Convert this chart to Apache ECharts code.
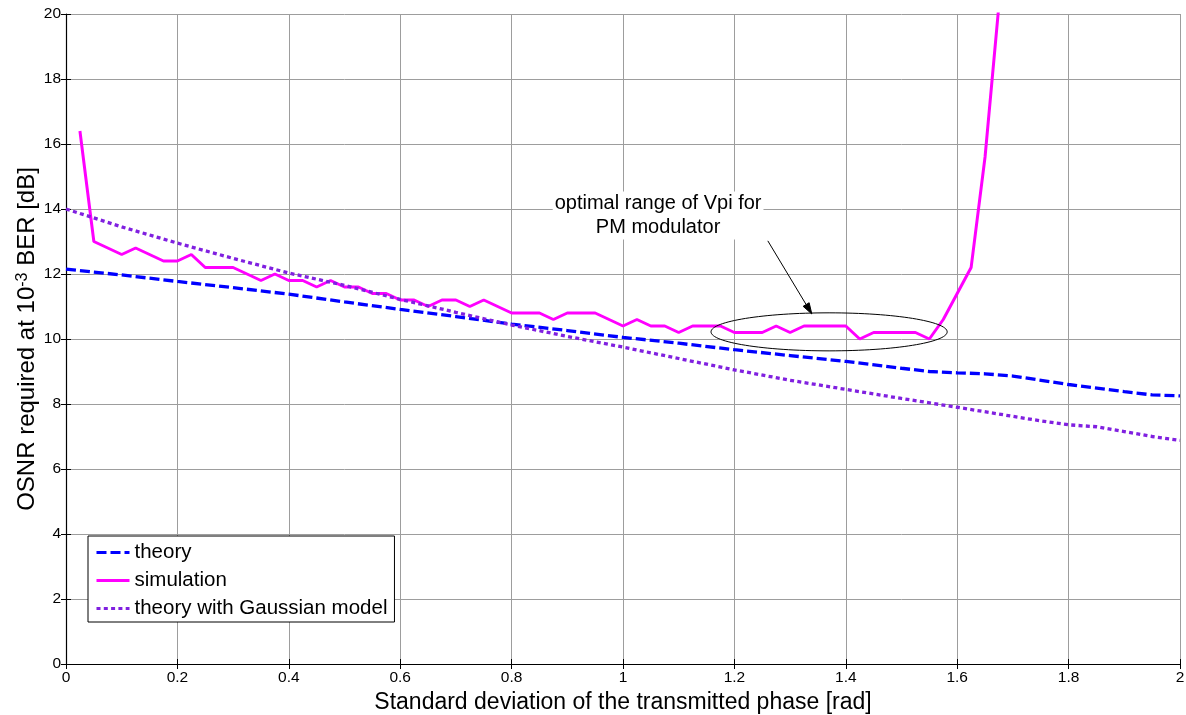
<!DOCTYPE html>
<html>
<head>
<meta charset="utf-8">
<script src="https://cdn.jsdelivr.net/npm/echarts@6/dist/echarts.min.js"></script>
<style>
  html, body { margin: 0; padding: 0; background: #fff; }
  #chart { width: 1186px; height: 715px; }
</style>
</head>
<body>
<div id="chart"></div>
<script>
// Required OSNR versus phase standard deviation

// x tick labels of the phase axis [rad]
const xTicks = ['0', '0.2', '0.4', '0.6', '0.8', '1', '1.2', '1.4', '1.6', '1.8', '2'];

// analytical model
const theoryX = [0, 0.1, 0.2, 0.3, 0.4, 0.5, 0.6, 0.7, 0.8, 0.9, 1.0, 1.1, 1.2, 1.3, 1.4, 1.5, 1.55, 1.6, 1.65, 1.7, 1.8, 1.9, 1.95, 2.0];
const theoryY = [12.15, 11.97, 11.77, 11.58, 11.38, 11.14, 10.91, 10.69, 10.46, 10.26, 10.05, 9.87, 9.67, 9.49, 9.31, 9.1, 9.0, 8.96, 8.93, 8.86, 8.6, 8.38, 8.28, 8.25];

// simulated OSNR penalty
const simX = [0.025, 0.05, 0.075, 0.1, 0.125, 0.15, 0.175, 0.2, 0.225, 0.25, 0.275, 0.3, 0.325, 0.35, 0.375, 0.4,
  0.425, 0.45, 0.475, 0.5, 0.525, 0.55, 0.575, 0.6, 0.625, 0.65, 0.675, 0.7, 0.725, 0.75, 0.775, 0.8,
  0.825, 0.85, 0.875, 0.9, 0.925, 0.95, 0.975, 1.0, 1.025, 1.05, 1.075, 1.1, 1.125, 1.15, 1.175, 1.2,
  1.225, 1.25, 1.275, 1.3, 1.325, 1.35, 1.375, 1.4, 1.425, 1.45, 1.475, 1.5, 1.525, 1.55, 1.575, 1.6,
  1.625, 1.65, 1.675];
const simY = [16.4, 13.0, 12.8, 12.6, 12.8, 12.6, 12.4, 12.4, 12.6, 12.2, 12.2, 12.2, 12.0, 11.8, 12.0, 11.8,
  11.8, 11.6, 11.8, 11.6, 11.6, 11.4, 11.4, 11.2, 11.2, 11.0, 11.2, 11.2, 11.0, 11.2, 11.0, 10.8,
  10.8, 10.8, 10.6, 10.8, 10.8, 10.8, 10.6, 10.4, 10.6, 10.4, 10.4, 10.2, 10.4, 10.4, 10.4, 10.2,
  10.2, 10.2, 10.4, 10.2, 10.4, 10.4, 10.4, 10.4, 10.0, 10.2, 10.2, 10.2, 10.2, 10.0, 10.6, 11.4,
  12.2, 15.6, 20.3];

// Gaussian-noise model
const gaussX = [0, 0.1, 0.2, 0.3, 0.4, 0.5, 0.6, 0.7, 0.8, 0.9, 1.0, 1.1, 1.2, 1.3, 1.4, 1.5, 1.6, 1.7, 1.75, 1.8, 1.85, 1.9, 1.95, 2.0];
const gaussY = [14.0, 13.45, 12.95, 12.48, 12.03, 11.65, 11.22, 10.82, 10.43, 10.08, 9.75, 9.4, 9.05, 8.73, 8.45, 8.17, 7.9, 7.62, 7.48, 7.36, 7.3, 7.15, 7.0, 6.88];

const seriesNames = ['theory', 'simulation', 'theory with Gaussian model'];

// annotation, in data units
const noteText = 'optimal range of Vpi for\nPM modulator';
const notePos = [1.063, 13.8];
const arrowFrom = [1.26, 13.02];
const arrowTo = [1.339, 10.77];
const ellipseCenter = [1.37, 10.22];
const ellipseRadii = [0.212, 0.585];

const FONT = '"Liberation Sans", Arial, sans-serif';
const GRID_COLOR = '#9d9d9d';

const pairs = (xs, ys) => xs.map((x, i) => [x, ys[i]]);

const chart = echarts.init(document.getElementById('chart'));

const tickStyle = { show: true, inside: true, length: 5, lineStyle: { color: '#000', width: 1 } };

chart.setOption({
  animation: false,
  backgroundColor: '#fff',
  textStyle: { fontFamily: FONT },
  grid: { left: 66, right: 6, top: 14, bottom: 51, containLabel: false, outerBoundsMode: 'none' },
  legend: {
    orient: 'vertical',
    left: 88,
    top: 536,
    padding: [6, 7, 3, 7],
    itemGap: 7,
    itemWidth: 33,
    itemHeight: 14,
    backgroundColor: '#fff',
    borderColor: '#000',
    borderWidth: 1,
    borderRadius: 0,
    itemStyle: { opacity: 0 },
    lineStyle: { width: 3 },
    textStyle: { fontFamily: FONT, fontSize: 20.5, color: '#000', lineHeight: 20 },
    data: seriesNames
  },
  xAxis: [{
    type: 'value',
    min: 0, max: 2, interval: 0.2,
    name: 'Standard deviation of the transmitted phase [rad]',
    nameLocation: 'middle',
    nameGap: 27,
    nameMoveOverlap: false,
    nameTextStyle: { fontFamily: FONT, fontSize: 23, color: '#000' },
    axisLine: { show: true, onZero: false, lineStyle: { color: '#000', width: 1.2 } },
    axisTick: tickStyle,
    axisLabel: {
      fontFamily: FONT, fontSize: 15.5, color: '#000', margin: 6,
      formatter: (v) => xTicks[Math.round(v / 0.2)]
    },
    splitLine: { show: true, lineStyle: { color: GRID_COLOR, width: 1 } }
  }, {
    type: 'value', position: 'top',
    min: 0, max: 2, interval: 0.2,
    axisLine: { show: false },
    axisTick: tickStyle,
    axisLabel: { show: false },
    splitLine: { show: false }
  }],
  yAxis: [{
    type: 'value',
    min: 0, max: 20, interval: 2,
    name: '{t|OSNR required at 10}{s|-3}{t| BER [dB]}',
    nameLocation: 'middle',
    nameGap: 27,
    nameMoveOverlap: false,
    nameTextStyle: {
      fontFamily: FONT, fontSize: 24, color: '#000',
      rich: {
        t: { fontFamily: FONT, fontSize: 24, color: '#000' },
        s: { fontFamily: FONT, fontSize: 16, color: '#000', verticalAlign: 'top', padding: [0, 0, 6, 0] }
      }
    },
    axisLine: { show: true, onZero: false, lineStyle: { color: '#000', width: 1.2 } },
    axisTick: tickStyle,
    axisLabel: { fontFamily: FONT, fontSize: 15.5, color: '#000', margin: 5 },
    splitLine: { show: true, lineStyle: { color: GRID_COLOR, width: 1 } }
  }, {
    type: 'value', position: 'right',
    min: 0, max: 20, interval: 2,
    axisLine: { show: false },
    axisTick: tickStyle,
    axisLabel: { show: false },
    splitLine: { show: false }
  }],
  series: [{
    name: seriesNames[0],
    type: 'line',
    data: pairs(theoryX, theoryY),
    showSymbol: false,
    symbol: 'none',
    color: '#0000ff',
    lineStyle: { color: '#0000ff', width: 3.3, type: [10, 4], cap: 'butt' }
  }, {
    name: seriesNames[1],
    type: 'line',
    data: pairs(simX, simY),
    showSymbol: false,
    symbol: 'none',
    color: '#ff00ff',
    clip: true,
    lineStyle: { color: '#ff00ff', width: 3 }
  }, {
    name: seriesNames[2],
    type: 'line',
    data: pairs(gaussX, gaussY),
    showSymbol: false,
    symbol: 'none',
    color: '#8020e0',
    lineStyle: { color: '#8020e0', width: 3.3, type: [4, 3.3], cap: 'butt' }
  }]
});

// annotation: label, arrow and ellipse placed through the axis scales
const px = (p) => chart.convertToPixel({ gridIndex: 0 }, p);
const c = px(ellipseCenter);
const edge = px([ellipseCenter[0] + ellipseRadii[0], ellipseCenter[1] + ellipseRadii[1]]);
const rx = Math.abs(edge[0] - c[0]);
const ry = Math.abs(edge[1] - c[1]);
const a0 = px(arrowFrom);
const a1 = px(arrowTo);
const ang = Math.atan2(a1[1] - a0[1], a1[0] - a0[0]);
const headLen = 11, headHalf = 3.5;
const base = [a1[0] - headLen * Math.cos(ang), a1[1] - headLen * Math.sin(ang)];
const head = [
  a1,
  [base[0] + headHalf * Math.sin(ang), base[1] - headHalf * Math.cos(ang)],
  [base[0] - headHalf * Math.sin(ang), base[1] + headHalf * Math.cos(ang)]
];
const tp = px(notePos);

chart.setOption({
  graphic: [{
    type: 'ellipse',
    shape: { cx: c[0], cy: c[1], rx: rx, ry: ry },
    style: { fill: null, stroke: '#000', lineWidth: 1 },
    z: 100
  }, {
    type: 'line',
    shape: { x1: a0[0], y1: a0[1], x2: base[0], y2: base[1] },
    style: { stroke: '#000', lineWidth: 1 },
    z: 100
  }, {
    type: 'polygon',
    shape: { points: head },
    style: { fill: '#000', stroke: '#000', lineWidth: 1 },
    z: 100
  }, {
    type: 'text',
    x: tp[0], y: tp[1],
    style: {
      text: noteText,
      font: '20px ' + FONT,
      fill: '#000',
      align: 'center',
      verticalAlign: 'middle',
      lineHeight: 24,
      backgroundColor: '#fff',
      padding: [0, 2, 0, 2]
    },
    z: 100
  }]
});
</script>
</body>
</html>
